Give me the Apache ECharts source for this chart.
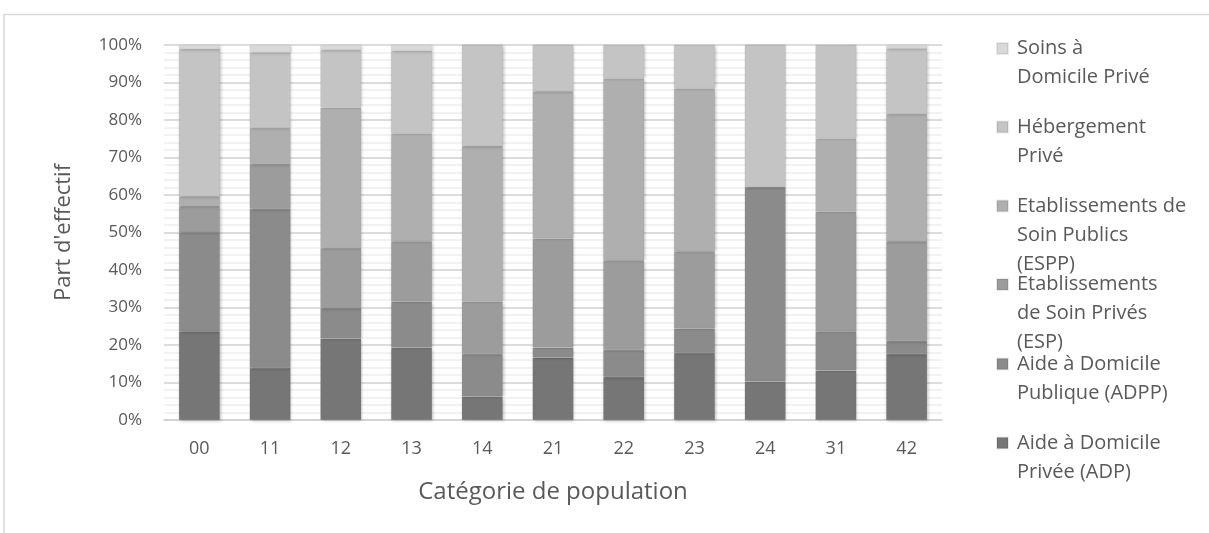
<!DOCTYPE html>
<html>
<head>
<meta charset="utf-8">
<script src="https://cdn.jsdelivr.net/npm/echarts@6/dist/echarts.min.js"></script>
<style>
  html, body { margin: 0; padding: 0; background: #fff; }
  #chart { width: 1209px; height: 533px; }
</style>
</head>
<body>
<div id="chart"></div>
<script>
// catégories de population
var categories = ['00', '11', '12', '13', '14', '21', '22', '23', '24', '31', '42'];

// parts d'effectif (%) par série, du bas vers le haut de la pile
var adp   = [23.7, 13.9, 21.7, 19.3, 6.3, 16.6, 11.5, 17.9, 10.3, 13.2, 17.6];
var adpp  = [26.4, 42.4, 8.2, 12.3, 11.3, 2.7, 7.2, 6.5, 51.8, 10.5, 3.5];
var esp   = [7.0, 12.0, 16.0, 16.1, 14.0, 29.1, 23.9, 20.6, 0, 31.9, 26.6];
var espp  = [2.6, 9.6, 37.4, 28.7, 41.5, 39.3, 48.5, 43.4, 0, 19.5, 33.9];
var heberg = [39.2, 20.1, 15.4, 22.0, 26.9, 12.3, 8.9, 11.6, 37.9, 24.9, 17.5];
var soins = [1.1, 2.0, 1.3, 1.6, 0, 0, 0, 0, 0, 0, 0.9];

var seriesNames = [
    'Aide à Domicile Privée (ADP)',
    'Aide à Domicile Publique (ADPP)',
    'Etablissements de Soin Privés (ESP)',
    'Etablissements de Soin Publics (ESPP)',
    'Hébergement Privé',
    'Soins à Domicile Privé'
];
// libellés de légende coupés comme dans l'original
var legendLabels = [
    'Aide à Domicile\nPrivée (ADP)',
    'Aide à Domicile\nPublique (ADPP)',
    'Etablissements\nde Soin Privés\n(ESP)',
    'Etablissements de\nSoin Publics\n(ESPP)',
    'Hébergement\nPrivé',
    'Soins à\nDomicile Privé'
];
var seriesData = [adp, adpp, esp, espp, heberg, soins];
var colors = ['#767676', '#8b8b8b', '#9c9c9c', '#afafaf', '#c4c4c4', '#d9d9d9'];
var yTicks = [0, 100, 10]; // min, max, pas

var textColor = '#595959';
var fontFam = '"Open Sans", "DejaVu Sans", sans-serif';

var seriesArr = seriesData.map(function (vals, i) {
    return {
        name: seriesNames[i],
        type: 'bar',
        stack: 'total',
        barWidth: 41,
        data: vals,
        itemStyle: {
            color: colors[i],
            borderColor: 'rgba(0,0,0,0.08)',
            borderWidth: 0.5,
            shadowColor: 'rgba(0,0,0,0.25)',
            shadowBlur: 3,
            shadowOffsetX: 1,
            shadowOffsetY: 1
        }
    };
});

// une légende par entrée ; des lignes vides en tête centrent
// le carré sur la 1re ligne du libellé
var lineH = 29;
var swatchY = [443, 364, 284.5, 206, 127, 48.5];
var legends = seriesNames.map(function (name, i) {
    var n = legendLabels[i].split('\n').length;
    var txt = new Array(n).join('\n') + legendLabels[i];
    return {
        orient: 'vertical',
        left: 996,
        top: swatchY[i] - (2 * n - 1) * lineH / 2,
        padding: 0,
        itemWidth: 11,
        itemHeight: 11,
        icon: 'rect',
        data: [name],
        formatter: function () { return txt; },
        textStyle: {
            color: textColor,
            fontFamily: fontFam,
            fontSize: 20,
            lineHeight: lineH,
            padding: [0, 0, 0, 4]
        }
    };
});

var option = {
    animation: false,
    color: colors,
    graphic: [{
        type: 'polyline',
        shape: { points: [[4, 540], [4, 14.5], [1215, 14.5]] },
        style: { stroke: '#d9d9d9', lineWidth: 1.5, fill: null },
        silent: true
    }],
    legend: legends,
    grid: { left: 164, right: 267, top: 45, bottom: 113 },
    xAxis: {
        type: 'category',
        data: categories,
        name: 'Catégorie de population',
        nameLocation: 'middle',
        nameGap: 60,
        nameTextStyle: { color: textColor, fontFamily: fontFam, fontSize: 24 },
        axisTick: { show: false },
        axisLine: { lineStyle: { color: '#d0d0d0', width: 1.5 } },
        axisLabel: { color: textColor, fontFamily: fontFam, fontSize: 18, margin: 20 }
    },
    yAxis: {
        type: 'value',
        min: yTicks[0],
        max: yTicks[1],
        interval: yTicks[2],
        name: "Part d'effectif",
        nameLocation: 'middle',
        nameGap: 89,
        nameRotate: 90,
        nameTextStyle: { color: textColor, fontFamily: fontFam, fontSize: 22 },
        axisLine: { show: false },
        axisTick: { show: false },
        axisLabel: {
            color: textColor, fontFamily: fontFam, fontSize: 17, margin: 22,
            formatter: '{value}%'
        },
        splitLine: { show: true, lineStyle: { color: '#d0d0d0', width: 1.5 } },
        minorTick: { show: false, splitNumber: 5 },
        minorSplitLine: { show: true, lineStyle: { color: '#eeeeee', width: 1.5 } }
    },
    series: seriesArr
};

var myChart = echarts.init(document.getElementById('chart'));
myChart.setOption(option);
</script>
</body>
</html>
